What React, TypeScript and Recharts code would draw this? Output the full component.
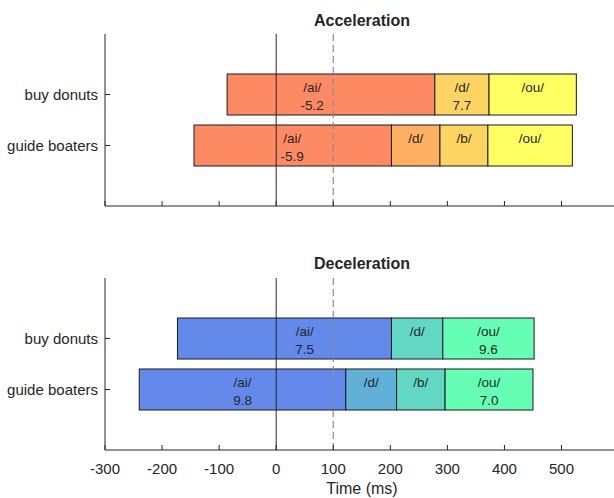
import { Bar, BarChart, Cell, ReferenceLine, XAxis, YAxis } from "recharts";

const phrases = ["buy donuts", "guide boaters"];
const timeTicks = [-300, -200, -100, 0, 100, 200, 300, 400, 500];

// onset, then the end of every phoneme (ms)
const accBounds = [
  [-86, 278, 373, 526],
  [-144, 202, 287, 371, 519],
];
const accPhones = [
  ["/ai/", "/d/", "/ou/"],
  ["/ai/", "/d/", "/b/", "/ou/"],
];
const accNotes = [
  ["-5.2", "7.7", ""],
  ["-5.9", "", "", ""],
];
const accColors = [
  ["#fe8a63", "#fdd462", "#ffff62"],
  ["#fe8a63", "#fdaf62", "#fdd462", "#ffff62"],
];
const accAiLabelAt = [63, 28];

const decBounds = [
  [-173, 202, 292, 452],
  [-240, 122, 211, 296, 450],
];
const decPhones = [
  ["/ai/", "/d/", "/ou/"],
  ["/ai/", "/d/", "/b/", "/ou/"],
];
const decNotes = [
  ["7.5", "", "9.6"],
  ["9.8", "", "", "7.0"],
];
const decColors = [
  ["#6389ea", "#62d8c4", "#64ffb4"],
  ["#6389ea", "#60b0d8", "#62d8c4", "#64ffb4"],
];
const decAiLabelAt = [50, -59];

const INK = "#262626";
const FONT = "'Liberation Sans', Arial, sans-serif";
const SEGS = ["s0", "s1", "s2", "s3"];

function buildRows(bounds: number[][]) {
  return phrases.map((name, i) => {
    const b = bounds[i];
    const row: Record<string, number | string> = { name, base: b[0] };
    SEGS.forEach((k, j) => {
      row[k] = b[j + 1] !== undefined ? b[j + 1] - b[j] : 0;
    });
    return row;
  });
}

function Panel({
  bounds,
  phones,
  notes,
  colors,
  aiAt,
  showTickLabels,
  height,
}: {
  bounds: number[][];
  phones: string[][];
  notes: string[][];
  colors: string[][];
  aiAt: number[];
  showTickLabels: boolean;
  height: number;
}) {
  const rows = buildRows(bounds);

  const segShape = (j: number) => (p: any) => {
    const { x, y, width, height: h, index } = p;
    if (!width || width <= 0 || phones[index][j] === undefined) return <g />;
    let cx = x + width / 2;
    if (j === 0) {
      const b = bounds[index];
      cx = x + ((aiAt[index] - b[0]) / (b[1] - b[0])) * width;
    }
    return (
      <g>
        <rect
          x={x}
          y={y}
          width={width}
          height={h}
          fill={colors[index][j]}
          stroke="#1a1a1a"
          strokeWidth={1}
        />
        <text x={cx} y={y + 13.5} textAnchor="middle" dominantBaseline="central" fontSize={13.5} fill={INK} fontFamily={FONT}>
          {phones[index][j]}
        </text>
        {notes[index][j] ? (
          <text x={cx} y={y + 31} textAnchor="middle" dominantBaseline="central" fontSize={13.5} fill={INK} fontFamily={FONT}>
            {notes[index][j]}
          </text>
        ) : null}
      </g>
    );
  };

  const xTick = (p: any) => {
    const { x, y, payload } = p;
    return (
      <g>
        <line x1={x} x2={x} y1={y} y2={y - 5} stroke={INK} />
        {showTickLabels ? (
          <text x={x} y={y + 18} textAnchor="middle" dominantBaseline="central" fontSize={15} fill={INK} fontFamily={FONT}>
            {payload.value}
          </text>
        ) : null}
      </g>
    );
  };

  const yTick = (p: any) => {
    const { x, y, payload } = p;
    return (
      <g>
        <line x1={x} x2={x + 5} y1={y} y2={y} stroke={INK} />
        <text x={x - 7} y={y} textAnchor="end" dominantBaseline="central" fontSize={15} fill={INK} fontFamily={FONT}>
          {payload.value}
        </text>
      </g>
    );
  };

  return (
    <BarChart
      width={614}
      height={height}
      data={rows}
      layout="vertical"
      margin={{ top: 34, right: 0, left: 0, bottom: 0 }}
      barSize={41}
    >
      <XAxis
        type="number"
        domain={[-300, 592]}
        ticks={timeTicks}
        interval={0}
        allowDataOverflow
        stroke={INK}
        tickSize={0}
        tickMargin={0}
        tick={xTick}
        height={height - 34 - 172}
      />
      <YAxis
        type="category"
        dataKey="name"
        width={105}
        stroke={INK}
        tickSize={0}
        tickMargin={0}
        tick={yTick}
        interval={0}
        padding={{ top: 35, bottom: 35 }}
      />
      <Bar dataKey="base" stackId="a" fill="none" isAnimationActive={false} shape={() => <g />} />
      {SEGS.map((k, j) => (
        <Bar key={k} dataKey={k} stackId="a" isAnimationActive={false} shape={segShape(j)}>
          {rows.map((_, i) => (
            <Cell key={i} fill={colors[i][j] ?? "none"} />
          ))}
        </Bar>
      ))}
      <ReferenceLine x={0} stroke={INK} strokeWidth={1} />
      <ReferenceLine x={100} stroke="#8a8a8a" strokeWidth={1.2} strokeDasharray="7 4" />
    </BarChart>
  );
}

const textStyle = {
  position: "absolute" as const,
  left: 0,
  width: 724,
  textAlign: "center" as const,
  fontFamily: FONT,
  color: INK,
  lineHeight: "20px",
};

export default function App() {
  return (
    <div
      style={{
        position: "fixed",
        left: 0,
        top: 0,
        width: 614,
        height: 498,
        overflow: "hidden",
        background: "#fff",
      }}
    >
      <div style={{ position: "absolute", left: 0, top: 0 }}>
        <Panel
          bounds={accBounds}
          phones={accPhones}
          notes={accNotes}
          colors={accColors}
          aiAt={accAiLabelAt}
          showTickLabels={false}
          height={214}
        />
      </div>
      <div style={{ position: "absolute", left: 0, top: 244 }}>
        <Panel
          bounds={decBounds}
          phones={decPhones}
          notes={decNotes}
          colors={decColors}
          aiAt={decAiLabelAt}
          showTickLabels={true}
          height={254}
        />
      </div>
      <div style={{ ...textStyle, top: 11, fontSize: 16, fontWeight: "bold" }}>Acceleration</div>
      <div style={{ ...textStyle, top: 254, fontSize: 16, fontWeight: "bold" }}>Deceleration</div>
      <div style={{ ...textStyle, top: 479, fontSize: 16 }}>Time (ms)</div>
    </div>
  );
}
